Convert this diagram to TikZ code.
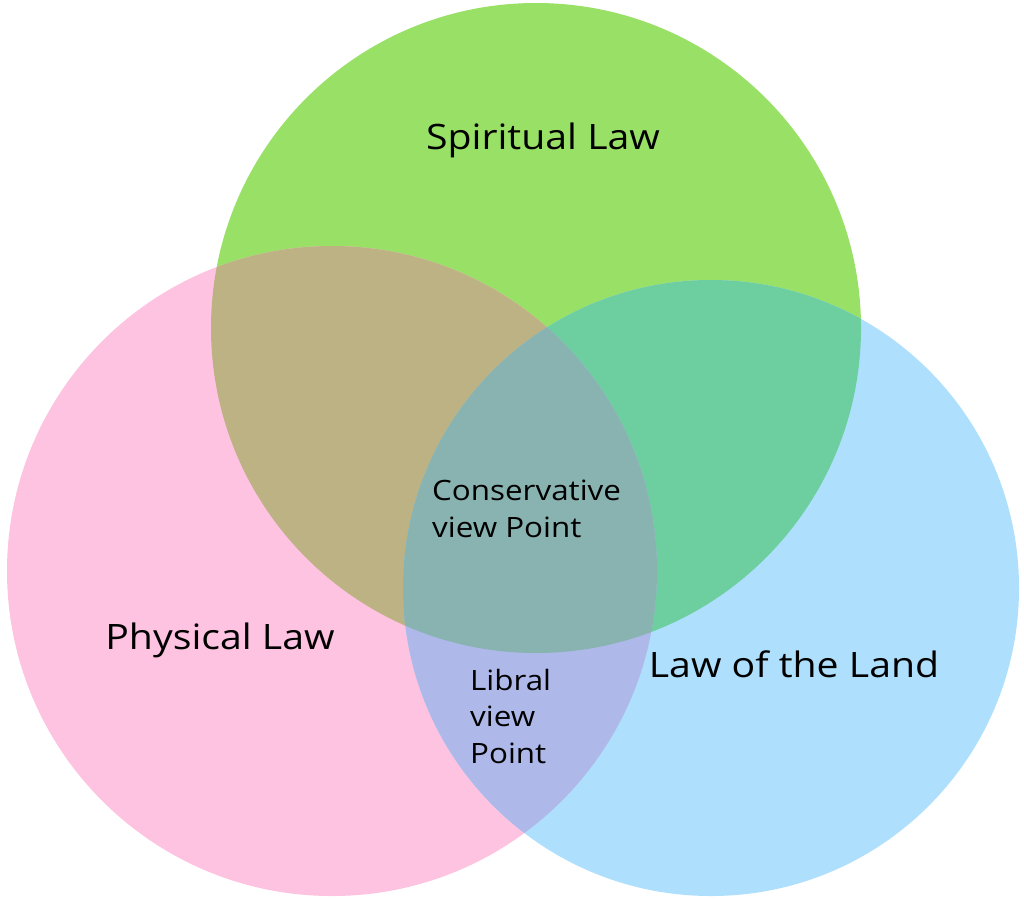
\documentclass[tikz,border=0pt]{standalone}
\usepackage{fontspec}
\setmainfont{Open Sans}[FakeStretch=1.12]
\definecolor{cgreen}{HTML}{99E066}
\definecolor{cpink}{HTML}{FDC3E1}
\definecolor{cblue}{HTML}{AEDFFC}
\definecolor{cpg}{HTML}{BDB283}
\definecolor{cgb}{HTML}{6DCFA0}
\definecolor{cpb}{HTML}{AEB9EA}
\definecolor{call}{HTML}{89B3B0}
\tikzset{
  biglabel/.style={font=\fontsize{35}{40}\selectfont, text=black, inner sep=0pt},
  smalllabel/.style={font=\fontsize{28}{36.5}\selectfont, text=black, inner sep=0pt, align=left, anchor=north west},
}
\begin{document}
\begin{tikzpicture}[x=1pt,y=-1pt]
\useasboundingbox[fill=white] (0,0) rectangle (1024,898);
\def\G{(536,328) circle (325)}
\def\P{(332,571) circle (325)}
\def\B{(711,588) circle (308)}
\fill[cgreen] \G;
\fill[cpink] \P;
\fill[cblue] \B;
\begin{scope}\clip \G; \fill[cpg] \P; \end{scope}
\begin{scope}\clip \G; \fill[cgb] \B; \end{scope}
\begin{scope}\clip \P; \fill[cpb] \B; \end{scope}
\begin{scope}\clip \G; \clip \P; \fill[call] \B; \end{scope}
\node[biglabel] (spiritual) at (543,140) {Spiritual Law};
\node[biglabel] (physical) at (220,640) {Physical Law};
\node[biglabel] (land) at (794,664) {Law of the Land};
\node[smalllabel] (cons) at (432,480) {Conservative\\view Point};
\node[smalllabel] (libral) at (470,669) {Libral\\view\\Point};
\end{tikzpicture}
\end{document}
